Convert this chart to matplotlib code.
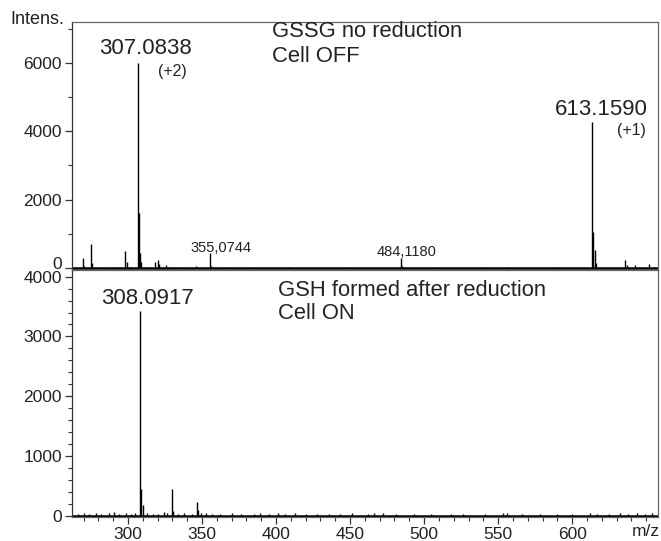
import matplotlib
matplotlib.use("Agg")
import matplotlib.pyplot as plt
import matplotlib.transforms as mtransforms
from matplotlib.ticker import MultipleLocator

plt.rcParams['font.family'] = ['Liberation Sans', 'DejaVu Sans']

# upper spectrum: GSSG, cell off
off_mz = [264.5, 269.3, 270.2, 275.0, 276.0, 283.0, 290.5, 298.2, 299.1, 301.5,
          307.08, 307.58, 308.08, 308.6, 312.0, 318.2, 320.4, 321.2, 325.7, 330.5,
          337.0, 346.0, 355.07, 356.1, 365.0, 381.0, 409.0, 450.5, 484.12, 485.1,
          510.0, 539.0, 556.0, 590.0, 613.16, 614.16, 615.16, 616.2, 635.8, 636.8,
          642.6, 646.0, 652.0, 655.0]
off_int = [40, 280, 60, 690, 150, 40, 30, 510, 160, 40,
           6000, 1620, 450, 185, 40, 185, 230, 120, 80, 30,
           30, 60, 430, 60, 25, 40, 40, 30, 290, 60,
           20, 40, 20, 20, 4270, 1050, 520, 150, 230, 80,
           90, 40, 120, 30]

# lower spectrum: GSH, cell on
on_mz = [266.0, 270.5, 274.0, 278.5, 282.0, 287.0, 290.5, 294.0, 298.5, 302.0,
         305.0, 308.09, 309.09, 310.09, 313.0, 317.0, 320.5, 324.5, 326.5, 329.6,
         330.6, 334.0, 338.0, 343.0, 346.5, 347.5, 349.0, 353.0, 357.0, 362.0,
         370.0, 376.0, 385.0, 389.0, 395.0, 401.0, 406.0, 413.0, 420.0, 428.0,
         436.0, 443.0, 451.0, 462.0, 466.0, 472.0, 481.0, 493.0, 505.0, 518.0,
         526.0, 541.0, 553.0, 556.0, 566.0, 578.0, 590.0, 600.0, 612.0, 617.0,
         625.0, 632.0, 638.0, 644.0, 649.0, 654.0]
on_int = [30, 40, 30, 50, 30, 40, 60, 30, 40, 30,
          40, 3430, 450, 180, 40, 30, 30, 60, 40, 440,
          70, 30, 40, 30, 230, 90, 50, 40, 30, 30,
          40, 30, 30, 40, 30, 40, 30, 40, 30, 30,
          30, 30, 40, 30, 40, 50, 30, 30, 30, 30,
          30, 30, 40, 50, 30, 30, 30, 30, 40, 30,
          30, 40, 30, 50, 30, 40]

top_yticks = [0, 2000, 4000, 6000]
bot_yticks = [0, 1000, 2000, 3000, 4000]
mz_ticks = [300, 350, 400, 450, 500, 550, 600]

x_min, x_max = 262, 658
frame_col = '#666666'
text_col = '#222222'

fig = plt.figure(figsize=(6.61, 5.41), dpi=100)
ax_top = fig.add_axes([0.1085, 0.5009, 0.887, 0.4584])
ax_bot = fig.add_axes([0.1085, 0.0444, 0.887, 0.4565])

for ax, mz, inten in [(ax_top, off_mz, off_int), (ax_bot, on_mz, on_int)]:
    ax.vlines(mz, 0, inten, color='black', linewidth=1.0)
    ax.axhline(0, color='black', linewidth=1.8)
    ax.set_xlim(x_min, x_max)
    for s in ax.spines.values():
        s.set_color(frame_col)
        s.set_linewidth(0.9)
    ax.spines['left'].set_color('#333333')
    ax.tick_params(axis='y', which='major', direction='out', length=5,
                   width=0.9, color='#333333', labelsize=12.5, labelcolor=text_col, pad=2)
    ax.tick_params(axis='y', which='minor', direction='out', length=3,
                   width=0.8, color='#333333')

# top panel
ax_top.set_ylim(-60, 7190)
ax_top.set_yticks(top_yticks)
ax_top.yaxis.set_minor_locator(MultipleLocator(1000))
ax_top.set_xticks([])
# the zero label sits a bit higher in the original
zero_lab = ax_top.yaxis.get_major_ticks()[0].label1
zero_lab.set_transform(zero_lab.get_transform() +
                       mtransforms.ScaledTranslation(0, 5 / 100, fig.dpi_scale_trans))

ax_top.text(312, 6120, '307.0838', fontsize=16, ha='center', va='bottom', color=text_col)
ax_top.text(330, 5730, '(+2)', fontsize=11.5, ha='center', va='center', color=text_col)
ax_top.text(362.5, 585, '355,0744', fontsize=10.5, ha='center', va='center', color=text_col)
ax_top.text(488, 470, '484,1180', fontsize=10.5, ha='center', va='center', color=text_col)
ax_top.text(619.6, 4620, '613.1590', fontsize=16, ha='center', va='center', color=text_col)
ax_top.text(640, 4005, '(+1)', fontsize=11.5, ha='center', va='center', color=text_col)
ax_top.text(0.342, 0.96, 'GSSG no reduction', transform=ax_top.transAxes,
            fontsize=15.8, ha='left', va='center', color=text_col)
ax_top.text(0.342, 0.859, 'Cell OFF', transform=ax_top.transAxes,
            fontsize=15.8, ha='left', va='center', color=text_col)

# bottom panel
ax_bot.set_ylim(-22, 4112)
ax_bot.set_yticks(bot_yticks)
ax_bot.yaxis.set_minor_locator(MultipleLocator(200))
ax_bot.set_xticks(mz_ticks)
ax_bot.xaxis.set_minor_locator(MultipleLocator(10))
ax_bot.tick_params(axis='x', which='major', direction='out', length=5,
                   width=0.9, color='#333333', labelsize=12.5, labelcolor=text_col, pad=2)
ax_bot.tick_params(axis='x', which='minor', direction='out', length=3,
                   width=0.8, color='#333333')
ax_bot.text(313.2, 3640, '308.0917', fontsize=16, ha='center', va='center', color=text_col)
ax_bot.text(0.352, 0.919, 'GSH formed after reduction', transform=ax_bot.transAxes,
            fontsize=15.8, ha='left', va='center', color=text_col)
ax_bot.text(0.352, 0.822, 'Cell ON', transform=ax_bot.transAxes,
            fontsize=15.8, ha='left', va='center', color=text_col)

fig.text(10 / 661, 1 - 20 / 541, 'Intens.', fontsize=13, ha='left', va='center', color=text_col)
fig.text(646 / 661, 1 - 531 / 541, 'm/z', fontsize=12.5, ha='center', va='center', color=text_col)

fig.savefig('out.png', dpi=100)
